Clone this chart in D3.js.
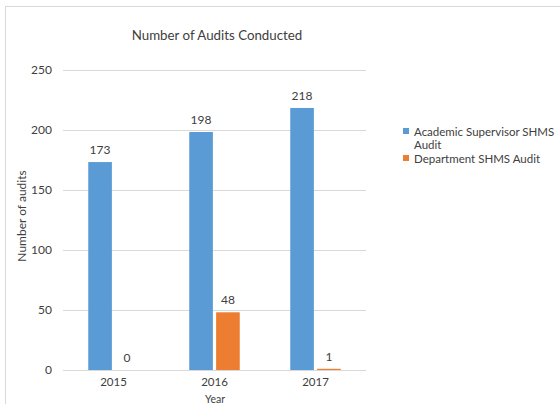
<!DOCTYPE html>
<html><head><meta charset="utf-8">
<script src="https://cdn.jsdelivr.net/npm/d3@7"></script>
<style>body{margin:0;background:#fff}svg{display:block}text{font-family:Lato,"Open Sans",sans-serif;fill:#404040}</style>
</head><body>
<svg id="c" width="560" height="404"></svg>
<script>
const years = ["2015", "2016", "2017"];
const seriesNames = ["Academic Supervisor SHMS Audit", "Department SHMS Audit"];
const academic = [173, 198, 218];
const department = [0, 48, 1];
const yTicks = [0, 50, 100, 150, 200, 250];
const colors = ["#5B9BD5", "#ED7D31"];

const svg = d3.select("#c");
svg.append("rect").attr("x", 5.5).attr("y", 6.5).attr("width", 600).attr("height", 450)
  .attr("fill", "#fff").attr("stroke", "#d9d9d9");

const x0 = 63, x1 = 366, yTop = 69.5, yBot = 370;
const x = d3.scaleBand().domain(years).range([x0, x1]).paddingInner(0.5).paddingOuter(0.25);
const y = d3.scaleLinear().domain([0, 250]).range([yBot, yTop]);
const xs = d3.scaleBand().domain([0, 1]).range([0, x.bandwidth()]).paddingInner(0.12);

// gridlines
svg.append("g").selectAll("line").data(yTicks).join("line")
  .attr("x1", x0).attr("x2", x1).attr("y1", d => Math.round(y(d)) + 0.5).attr("y2", d => Math.round(y(d)) + 0.5)
  .attr("stroke", "#d9d9d9").attr("stroke-width", 1);

const yAxis = d3.axisLeft(y).tickValues(yTicks).tickSize(0).tickPadding(11);
const gy = svg.append("g").attr("transform", `translate(${x0},0)`).call(yAxis);
gy.select(".domain").remove();
gy.selectAll("text").style("font-size", "12px").style("font-family", "Lato").attr("fill", "#595959");

const xAxis = d3.axisBottom(x).tickSize(0).tickPadding(8);
const gx = svg.append("g").attr("transform", `translate(0,${yBot})`).call(xAxis);
gx.select(".domain").remove();
gx.selectAll("text").style("font-size", "11.5px").style("font-family", "Lato").attr("fill", "#595959");

const data = years.map((yr, i) => ({ yr, vals: [academic[i], department[i]] }));
const groups = svg.append("g").selectAll("g").data(data).join("g")
  .attr("transform", d => `translate(${x(d.yr)},0)`);
groups.selectAll("rect").data(d => d.vals.map((v, k) => ({ v, k }))).join("rect")
  .attr("x", d => xs(d.k)).attr("width", xs.bandwidth())
  .attr("y", d => y(d.v)).attr("height", d => yBot - y(d.v))
  .attr("fill", d => colors[d.k]);
groups.selectAll("text.lbl").data(d => d.vals.map((v, k) => ({ v, k }))).join("text")
  .attr("class", "lbl")
  .attr("x", d => xs(d.k) + xs.bandwidth() / 2).attr("y", d => y(d.v) - 8)
  .attr("text-anchor", "middle").style("font-size", "12px").text(d => d.v);

svg.append("text").attr("x", 217).attr("y", 40).attr("text-anchor", "middle")
  .style("font-size", "13.3px").attr("fill", "#404040").text("Number of Audits Conducted");
svg.append("text").attr("transform", "translate(26,216) rotate(-90)").attr("text-anchor", "middle")
  .style("font-size", "12px").attr("fill", "#595959").text("Number of audits");
svg.append("text").attr("x", 215).attr("y", 403).attr("text-anchor", "middle")
  .style("font-size", "10.5px").attr("fill", "#595959").text("Year");

// legend
const lg = svg.append("g");
lg.append("rect").attr("x", 403).attr("y", 128).attr("width", 6).attr("height", 6).attr("fill", colors[0]);
lg.append("text").attr("x", 414).attr("y", 136).style("font-size", "11.5px").attr("fill", "#595959").text("Academic Supervisor SHMS");
lg.append("text").attr("x", 414).attr("y", 149).style("font-size", "11.5px").attr("fill", "#595959").text("Audit");
lg.append("rect").attr("x", 403).attr("y", 155).attr("width", 6).attr("height", 6).attr("fill", colors[1]);
lg.append("text").attr("x", 414).attr("y", 163).style("font-size", "11.5px").attr("fill", "#595959").text(seriesNames[1]);
</script>
</body></html>
